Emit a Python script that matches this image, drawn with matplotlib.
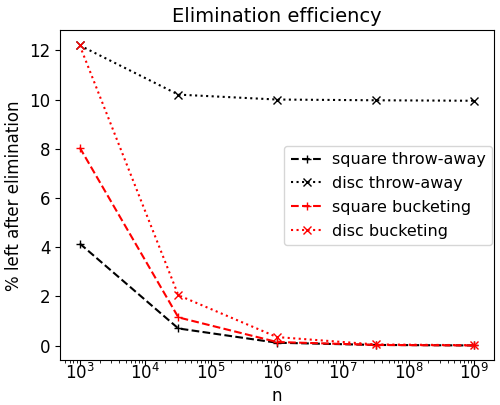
import numpy as np
import matplotlib
matplotlib.use('Agg')
import matplotlib.pyplot as plt

n = [1e3, 10**4.5, 1e6, 10**7.5, 1e9]
square_throw = [4.15, 0.7, 0.12, 0.03, 0.01]
disc_throw = [12.2, 10.2, 10.0, 9.97, 9.95]
square_bucket = [8.05, 1.15, 0.15, 0.03, 0.01]
disc_bucket = [12.2, 2.05, 0.35, 0.05, 0.02]

plt.rcParams['font.size'] = 12
fig, ax = plt.subplots(figsize=(5, 4.05), dpi=100)

ax.plot(n, square_throw, '--+', color='k', label='square throw-away')
ax.plot(n, disc_throw, ':x', color='k', label='disc throw-away')
ax.plot(n, square_bucket, '--+', color='r', label='square bucketing')
ax.plot(n, disc_bucket, ':x', color='r', label='disc bucketing')

ax.set_xscale('log')
ax.set_xticks([1e3, 1e4, 1e5, 1e6, 1e7, 1e8, 1e9])
ax.tick_params(axis='x', pad=-2)
ax.set_xlabel('n', labelpad=3)
ax.set_ylabel('% left after elimination')
ax.set_title('Elimination efficiency', fontsize=14)
ax.legend(loc='center right', fontsize=11.5, borderaxespad=0.1,
          handletextpad=0.6, labelspacing=0.55)

plt.subplots_adjust(left=0.12, right=0.988, top=0.925, bottom=0.11)
plt.savefig('out.png')
